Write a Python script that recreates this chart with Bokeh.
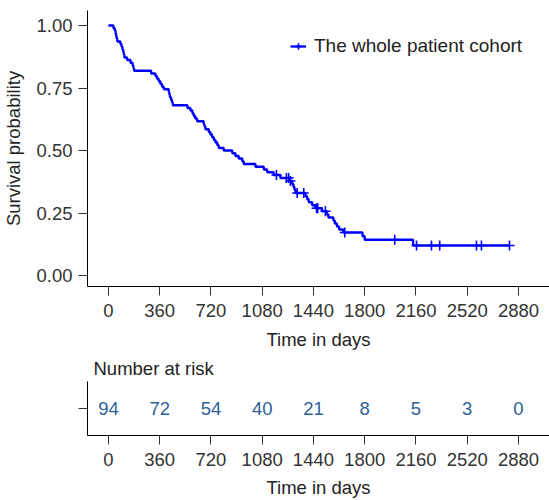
import numpy as np
from bokeh.plotting import figure
from bokeh.layouts import column
from bokeh.models import Range1d, FixedTicker, Legend, LegendItem
from bokeh.embed import file_html
from bokeh.resources import INLINE

# Kaplan-Meier step data (days, survival probability)
km_times = [0, 35, 45, 50, 54, 58, 62, 84, 92, 98, 104, 108, 112, 131, 155, 170, 175, 180,
            300, 330, 341, 353, 365, 377, 389, 424, 428, 432, 440, 447, 452,
            555, 576, 590, 599, 610, 623, 669, 675, 681, 705, 716, 728, 740, 752, 765, 775, 810,
            870, 892, 915, 940, 950, 1033, 1091, 1115, 1161, 1208, 1270, 1290, 1300, 1307, 1315,
            1384, 1396, 1407, 1431, 1454, 1500, 1535, 1545, 1580, 1590, 1605, 1620, 1650,
            1785, 1800, 2140]
km_surv = [1.000, 0.989, 0.979, 0.968, 0.957, 0.947, 0.936, 0.926, 0.915, 0.904, 0.894, 0.883, 0.872,
           0.862, 0.851, 0.840, 0.830, 0.819,
           0.808, 0.798, 0.787, 0.777, 0.766, 0.755, 0.745, 0.734, 0.723, 0.713, 0.702, 0.692, 0.681,
           0.670, 0.660, 0.649, 0.638, 0.628, 0.617, 0.606, 0.596, 0.585, 0.574, 0.564, 0.553, 0.542,
           0.532, 0.521, 0.510, 0.500,
           0.489, 0.478, 0.468, 0.457, 0.446, 0.435, 0.424, 0.413, 0.402, 0.390, 0.378, 0.366, 0.354,
           0.342, 0.330,
           0.317, 0.305, 0.293, 0.281, 0.269, 0.257, 0.244, 0.232, 0.220, 0.208, 0.196, 0.184, 0.172,
           0.157, 0.143, 0.120]
censor_times = [1180, 1250, 1266, 1278, 1326, 1372, 1462, 1470, 1524, 1660,
                2011, 2164, 2269, 2327, 2585, 2620, 2817]

x_ticks = [0, 360, 720, 1080, 1440, 1800, 2160, 2520, 2880]
y_ticks = [0.0, 0.25, 0.5, 0.75, 1.0]
risk_n = [94, 72, 54, 40, 21, 8, 5, 3, 0]

series_name = "The whole patient cohort"
curve_color = "#0000FF"
risk_color = "#2E5F99"
FONT = "Liberation Sans"
TEXT = "#333333"
FS = "18.5px"

# step line extended to last censor
line_x = list(km_times) + [max(censor_times)]
line_y = list(km_surv) + [km_surv[-1]]
idx = np.searchsorted(np.array(km_times), np.array(censor_times), side="right") - 1
censor_surv = [km_surv[i] for i in idx]

xr = Range1d(-147, 3098)

def style_axes(p):
    for ax in (p.xaxis[0], p.yaxis[0]):
        ax.axis_line_color = "black"
        ax.axis_line_width = 1
        ax.major_tick_line_color = "#333333"
        ax.major_tick_out = 9
        ax.major_tick_in = 0
        ax.minor_tick_line_color = None
        ax.major_label_text_font = FONT
        ax.major_label_text_font_size = FS
        ax.major_label_text_color = TEXT
        ax.axis_label_text_font = FONT
        ax.axis_label_text_font_size = FS
        ax.axis_label_text_font_style = "normal"
        ax.axis_label_text_color = "#222222"
    p.xgrid.grid_line_color = None
    p.ygrid.grid_line_color = None
    p.outline_line_color = None

p = figure(width=549, height=352, output_backend="svg", toolbar_location=None,
           x_range=xr, y_range=Range1d(-0.044, 1.06),
           min_border_left=87, min_border_right=0, min_border_top=10, min_border_bottom=0)
style_axes(p)
p.xaxis.ticker = FixedTicker(ticks=x_ticks)
p.yaxis.ticker = FixedTicker(ticks=y_ticks)
p.yaxis.major_label_overrides = {t: f"{t:.2f}" for t in y_ticks}
p.xaxis.axis_label = "Time in days"
p.yaxis.axis_label = "Survival probability"
p.xaxis.major_label_standoff = 8
p.yaxis.major_label_standoff = 6
p.xaxis.axis_label_standoff = 9
p.yaxis.axis_label_standoff = 9

ln = p.step(line_x, line_y, mode="after", line_color=curve_color, line_width=2.3)
sc = p.scatter(censor_times, censor_surv, marker="cross", size=10, line_color=curve_color,
               line_width=1.6)

legend = Legend(items=[LegendItem(label=series_name, renderers=[ln, sc])],
                location=(203, 229), border_line_color=None, background_fill_alpha=0,
                margin=0, padding=0, glyph_width=16, glyph_height=20, label_height=20,
                label_standoff=8, label_text_font=FONT, label_text_font_size="19px",
                label_text_color="#222222")
p.add_layout(legend, "center")

r = figure(width=549, height=148, output_backend="svg", toolbar_location=None,
           x_range=xr, y_range=Range1d(0, 1),
           min_border_left=87, min_border_right=0, min_border_top=0, min_border_bottom=0,
           title="Number at risk")
style_axes(r)
r.xaxis.ticker = FixedTicker(ticks=x_ticks)
r.yaxis.ticker = FixedTicker(ticks=[0.5])
r.yaxis.major_label_overrides = {0.5: " "}
r.yaxis.major_label_text_font_size = "1px"
r.xaxis.axis_label = "Time in days"
r.xaxis.major_label_standoff = 8
r.xaxis.axis_label_standoff = 8
r.title.text_font = FONT
r.title.text_font_size = FS
r.title.text_font_style = "normal"
r.title.text_color = "#222222"
r.title.offset = 6
r.title.standoff = 6
r.text(x=x_ticks, y=[0.5] * len(x_ticks), text=[str(n) for n in risk_n],
       text_align="center", text_baseline="middle", text_font_size=FS,
       text_color=risk_color, text_font={"value": FONT})

layout = column(p, r, spacing=0)
open("out.html", "w").write(file_html(layout, INLINE))
